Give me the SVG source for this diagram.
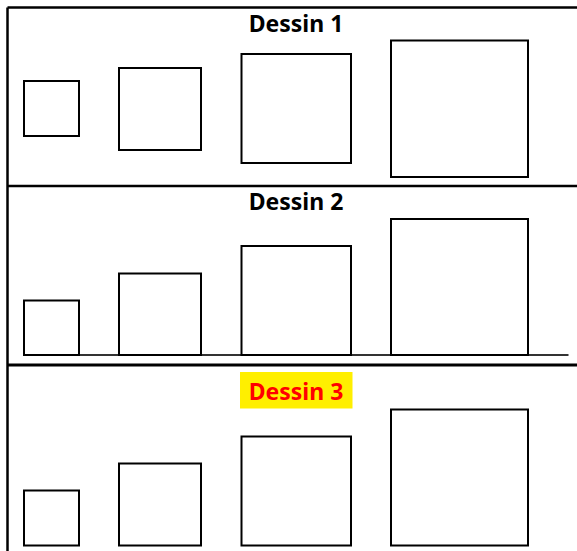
<svg xmlns="http://www.w3.org/2000/svg" width="577" height="551" viewBox="0 0 577 551">
<style>
.frame{stroke:#000;stroke-width:2.5;fill:none}
.sq{fill:#fff;stroke:#000;stroke-width:2}
.title{font-family:"Noto Sans","Liberation Sans",sans-serif;font-weight:bold;font-size:23px;text-anchor:middle}
</style>
<rect width="577" height="551" fill="#fff"/>
<g id="frame">
<line class="frame" x1="7.5" y1="7.5" x2="577" y2="7.5"/>
<line class="frame" x1="7.5" y1="7.5" x2="7.5" y2="551"/>
<line class="frame" x1="7.5" y1="186" x2="577" y2="186"/>
<line x1="7.5" y1="365" x2="577" y2="365" stroke="#000" stroke-width="3"/>
</g>
<g id="dessin1">
<text class="title" x="296" y="31.5">Dessin 1</text>
<rect class="sq" x="24" y="81" width="55" height="55"/>
<rect class="sq" x="119" y="68" width="82" height="82"/>
<rect class="sq" x="241.5" y="54" width="109.5" height="109"/>
<rect class="sq" x="391" y="40.5" width="137" height="136.5"/>
</g>
<g id="dessin2">
<text class="title" x="296" y="210">Dessin 2</text>
<line x1="24" y1="355" x2="568.5" y2="355" stroke="#333" stroke-width="2"/>
<rect class="sq" x="24" y="300.5" width="55" height="54.5"/>
<rect class="sq" x="119" y="273.5" width="82" height="81.5"/>
<rect class="sq" x="241.5" y="246" width="109.5" height="109"/>
<rect class="sq" x="391" y="219" width="137" height="136"/>
</g>
<g id="dessin3">
<rect x="240" y="372" width="112.5" height="36.5" fill="#ffef00"/>
<text class="title" x="296" y="400" fill="#ff0000">Dessin 3</text>
<rect class="sq" x="24" y="490.5" width="55" height="55"/>
<rect class="sq" x="119" y="463.5" width="82" height="82"/>
<rect class="sq" x="241.5" y="436.5" width="109.5" height="109"/>
<rect class="sq" x="391" y="409.5" width="137" height="136"/>
</g>
</svg>
